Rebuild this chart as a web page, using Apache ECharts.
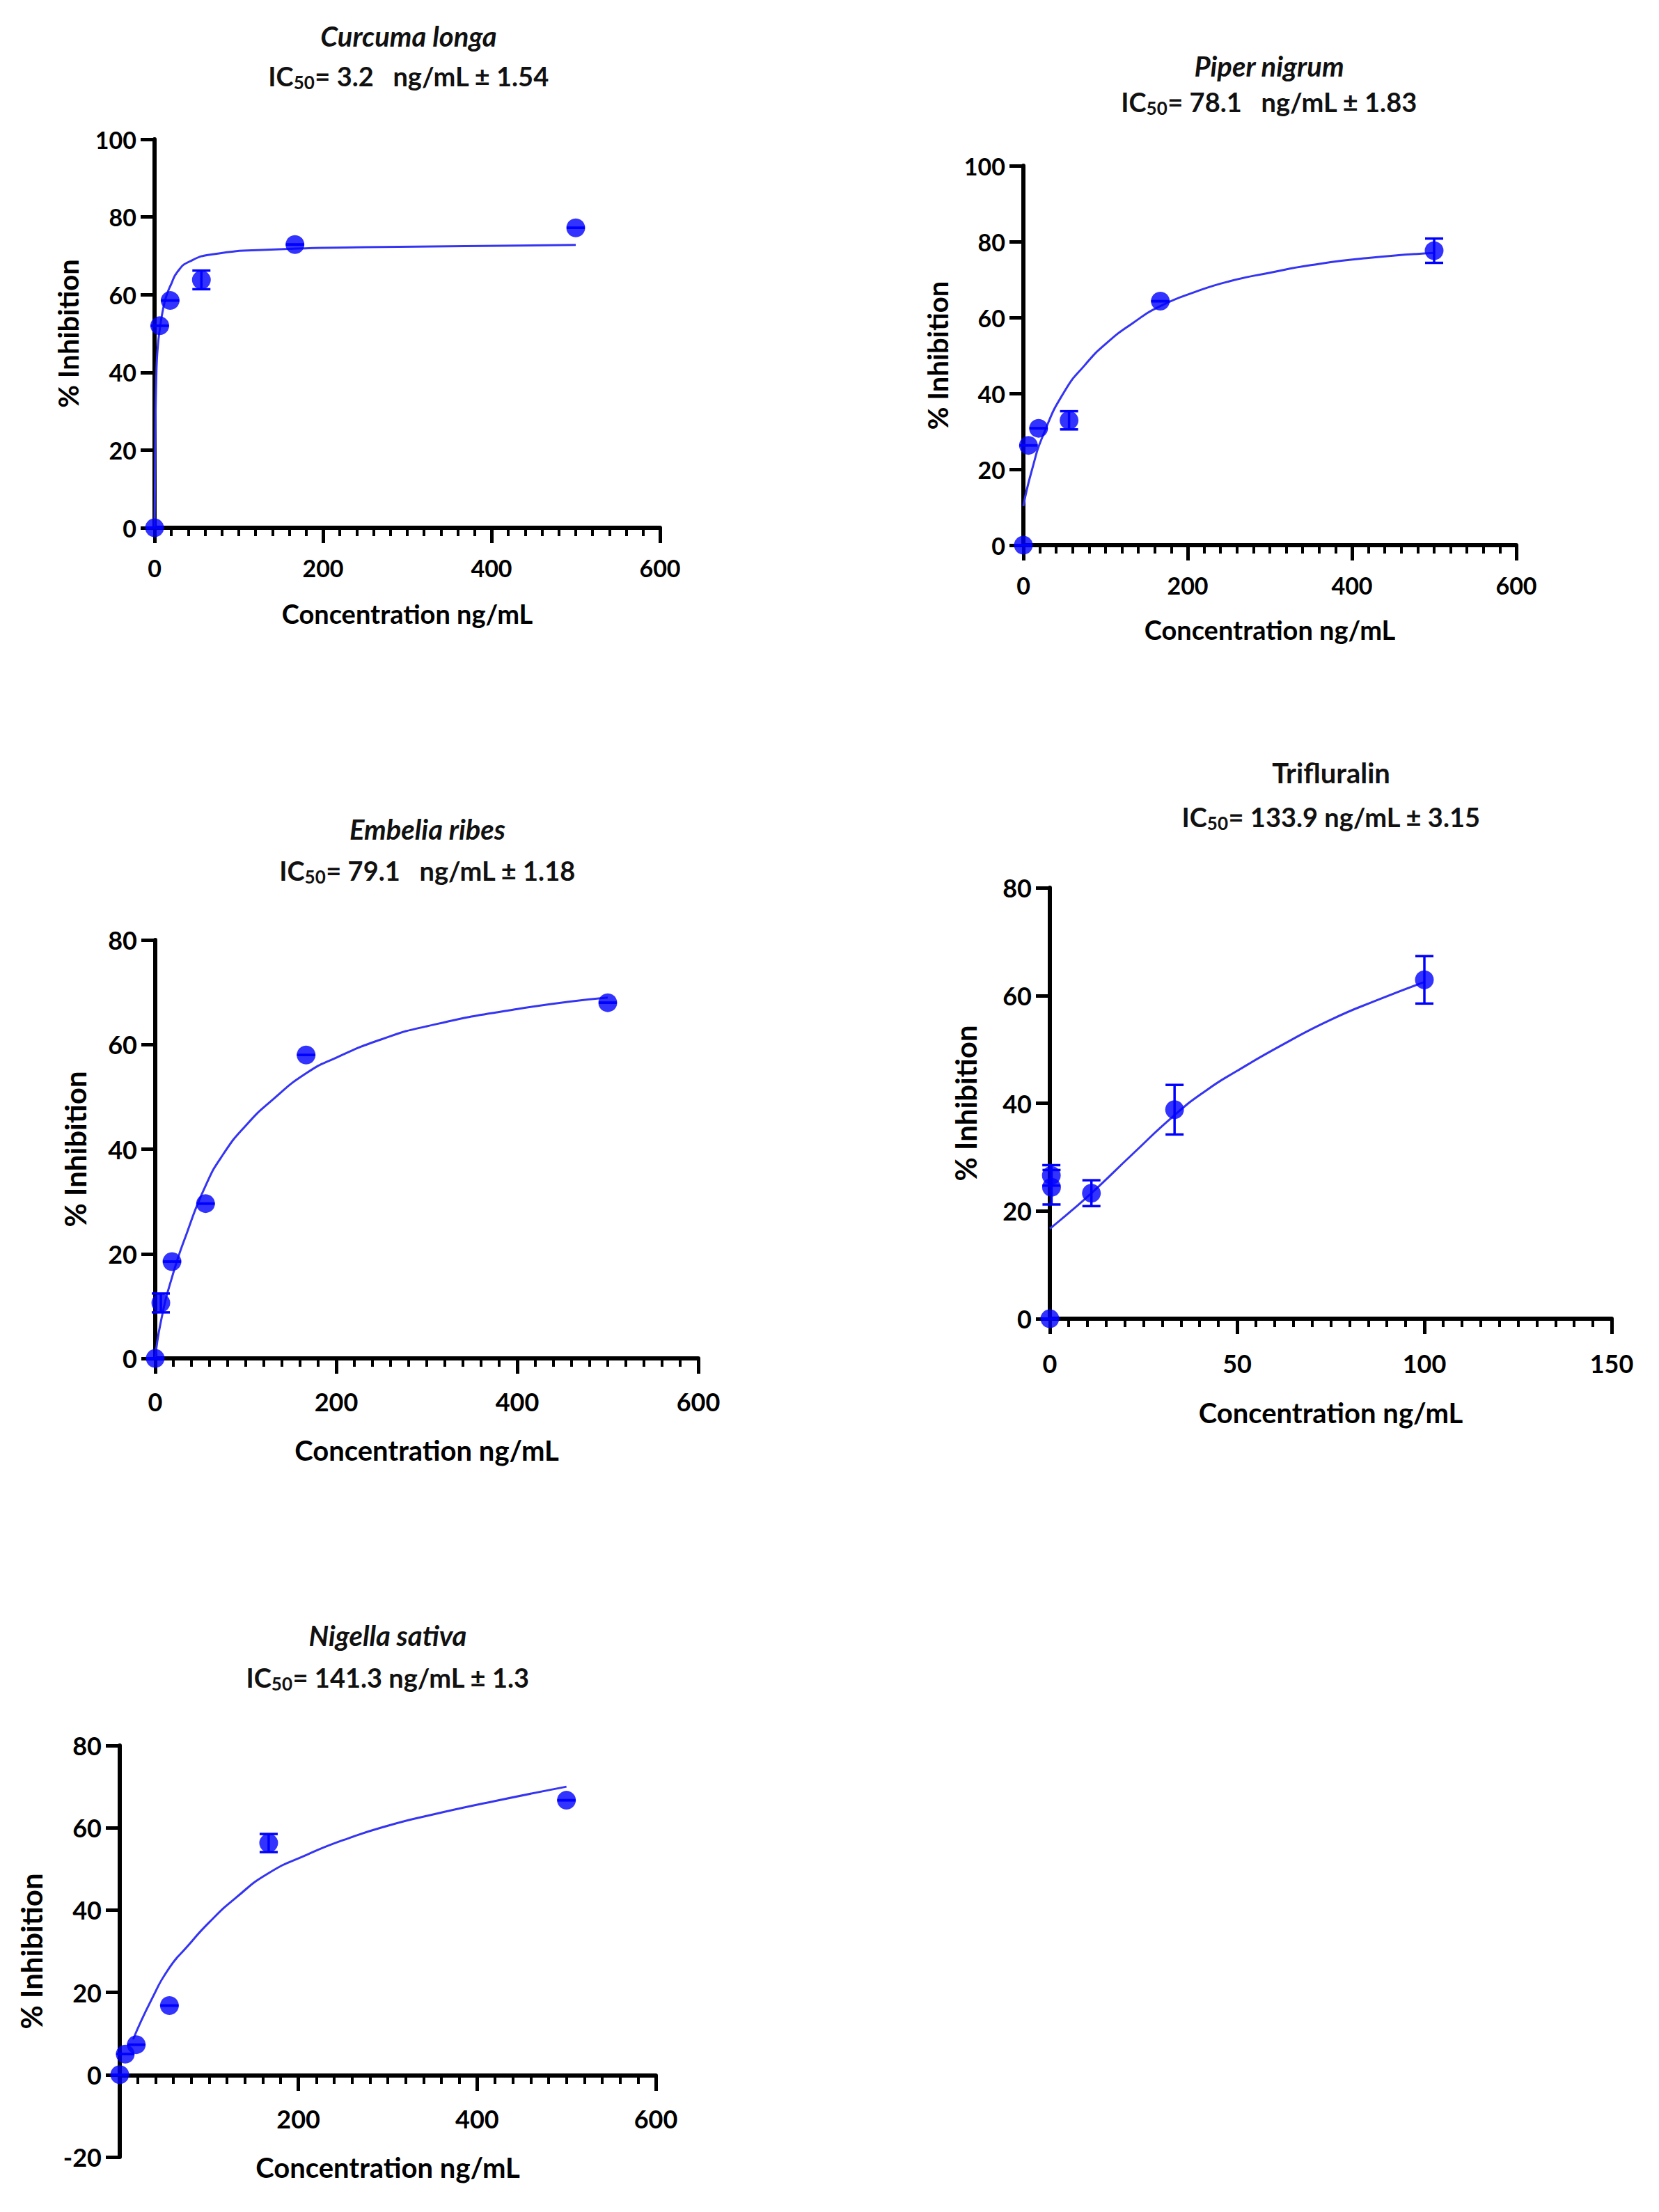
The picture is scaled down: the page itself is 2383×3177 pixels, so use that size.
<!DOCTYPE html>
<html>
<head>
<meta charset="utf-8">
<title>IC50 inhibition curves</title>
<script src="https://cdn.jsdelivr.net/npm/echarts@6/dist/echarts.min.js"></script>
<style>
  html, body { margin: 0; padding: 0; background: #fff; }
  #main { width: 2383px; height: 3177px; }
</style>
</head>
<body>
<div id="main"></div>
<script>
// concentrations (ng/mL)
var concExtract = [0, 6.17, 18.5, 55.6, 166.7, 500];
var concTrifluralin = [0, 0.4, 0.45, 11.1, 33.3, 100];

// mean % inhibition and error bar size (0 = hidden by the dot)
var curcumaMean = [0, 52.0, 58.5, 63.8, 72.9, 77.2];
var curcumaErr  = [0, 0, 0, 2.4, 0, 0];
var piperMean   = [0, 26.3, 30.8, 32.9, 64.3, 77.6];
var piperErr    = [0, 0, 0, 2.4, 0, 3.2];
var embeliaMean = [0, 10.6, 18.5, 29.6, 58.0, 68.0];
var embeliaErr  = [0, 1.8, 0, 0, 0, 0];
var trifMean    = [0, 26.6, 24.4, 23.3, 38.8, 62.9];
var trifErr     = [0, 1.9, 3.2, 2.4, 4.6, 4.4];
var nigellaMean = [0, 5.0, 7.3, 16.8, 56.3, 66.7];
var nigellaErr  = [0, 0, 0, 0, 2.2, 0];

// fitted curves, read at x positions along the drawn line
var curcumaFitX = [0, 0.8, 2.2, 4, 6.17, 9, 13.8, 19.3, 27.6, 41.3, 68.9, 137.8, 250, 500];
var curcumaFitY = [0, 20, 40, 47, 51, 55, 59.5, 62.5, 66, 68.5, 70.4, 71.6, 72.2, 72.8];
var piperFitX = [0, 10, 25, 50, 75, 100, 133, 166.7, 210, 250, 300, 350, 420, 500];
var piperFitY = [10.3, 19.5, 29.5, 40.5, 47.5, 53, 58.5, 63, 66.8, 69.5, 71.8, 73.8, 75.7, 77];
var embeliaFitX = [0, 6.17, 18.5, 35, 55.6, 75, 100, 130, 166.7, 200, 250, 300, 400, 500];
var embeliaFitY = [0, 7, 15.5, 24, 33, 39, 44.5, 49.5, 54.5, 57.5, 61, 63.5, 66.8, 69];
var trifFitX = [0, 5, 11.1, 22, 33.3, 42, 50, 62, 75, 88, 100];
var trifFitY = [16.7, 19.6, 23.3, 30.5, 37.8, 42.5, 46, 50.8, 55.5, 59.3, 62.5];
var nigellaFitX = [15, 35, 55.6, 75, 100, 130, 166.7, 210, 250, 300, 350, 420, 500];
var nigellaFitY = [8.6, 18, 26, 31, 37, 43, 49, 53.5, 57, 60.5, 63.2, 66.5, 70];

// titles
var speciesNames = ['Curcuma longa', 'Piper nigrum', 'Embelia ribes', 'Trifluralin', 'Nigella sativa'];
var ic50Lines = [
  'IC{s|50}= 3.2\u00a0\u00a0\u00a0ng/mL \u00b1 1.54',
  'IC{s|50}= 78.1\u00a0\u00a0\u00a0ng/mL \u00b1 1.83',
  'IC{s|50}= 79.1\u00a0\u00a0\u00a0ng/mL \u00b1 1.18',
  'IC{s|50}= 133.9 ng/mL \u00b1 3.15',
  'IC{s|50}= 141.3 ng/mL \u00b1 1.3'
];
var xTitle = 'Concentration ng/mL';
var yTitle = '% Inhibition';

var FONT = 'Lato, "Open Sans", sans-serif';
var BLUE = '#0000ff';
var LINE_BLUE = '#3434f2';

var panels = [
  { conc: concExtract, mean: curcumaMean, err: curcumaErr, fx: curcumaFitX, fy: curcumaFitY,
    grid: { left: 222, top: 200, width: 726, height: 558 }, xMax: 600, xInt: 200, yMin: 0, yMax: 100,
    xGap: 104, yGap: 104, xMargin: 40, fs: 34, t1: 52, t2: 109, cx: 587, italic: true },
  { conc: concExtract, mean: piperMean, err: piperErr, fx: piperFitX, fy: piperFitY,
    grid: { left: 1470, top: 238, width: 708, height: 545 }, xMax: 600, xInt: 200, yMin: 0, yMax: 100,
    xGap: 102, yGap: 103, xMargin: 40, fs: 34, t1: 95, t2: 146, cx: 1823, italic: true },
  { conc: concExtract, mean: embeliaMean, err: embeliaErr, fx: embeliaFitX, fy: embeliaFitY,
    grid: { left: 223, top: 1350, width: 780, height: 601 }, xMax: 600, xInt: 200, yMin: 0, yMax: 80,
    xGap: 112, yGap: 94, xMargin: 44, fs: 36, t1: 1191, t2: 1250, cx: 614, italic: true },
  { conc: concTrifluralin, mean: trifMean, err: trifErr, fx: trifFitX, fy: trifFitY,
    grid: { left: 1508, top: 1275, width: 807, height: 619 }, xMax: 150, xInt: 50, yMin: 0, yMax: 80,
    xGap: 115, yGap: 100, xMargin: 46, fs: 36, t1: 1110, t2: 1173, cx: 1912, italic: false },
  // this panel's y axis runs below zero; its x axis sits on y = 0 (drawn by an overlay grid)
  { conc: concExtract, mean: nigellaMean, err: nigellaErr, fx: nigellaFitX, fy: nigellaFitY,
    grid: { left: 172, top: 2507, width: 770, height: 591 }, xMax: 600, xInt: 200, yMin: -20, yMax: 80,
    zeroGrid: { left: 172, top: 2507, width: 770, height: 474 },
    xGap: 112, yGap: 106, xMargin: 44, fs: 36, t1: 2349, t2: 2409, cx: 557, italic: true, hideZero: true }
];

var grids = [], xAxes = [], yAxes = [], series = [], texts = [];

function blackLine() { return { show: true, onZero: false, lineStyle: { color: '#000', width: 6 } }; }

function makeXAxis(gi, p, visible) {
  return {
    gridIndex: gi, type: 'value', min: 0, max: p.xMax, interval: p.xInt, show: visible,
    axisLine: blackLine(),
    axisTick: { show: true, inside: false, length: 22, lineStyle: { color: '#000', width: 5 } },
    minorTick: { show: true, splitNumber: 10, length: 12, lineStyle: { color: '#000', width: 4 } },
    splitLine: { show: false },
    axisLabel: {
      margin: p.xMargin, color: '#000', fontFamily: FONT, fontWeight: 'bold', fontSize: p.fs,
      formatter: function (v) { return (p.hideZero && v === 0) ? '' : String(v); }
    },
    name: xTitle, nameLocation: 'middle', nameGap: p.xGap,
    nameTextStyle: { color: '#000', fontFamily: FONT, fontWeight: 'bold', fontSize: p.fs + 4 }
  };
}

function makeYAxis(gi, p, min, max, visible) {
  return {
    gridIndex: gi, type: 'value', min: min, max: max, interval: 20, show: visible,
    axisLine: blackLine(),
    axisTick: { show: true, inside: false, length: 20, lineStyle: { color: '#000', width: 5 } },
    splitLine: { show: false },
    axisLabel: { margin: 26, color: '#000', fontFamily: FONT, fontWeight: 'bold', fontSize: p.fs },
    name: yTitle, nameLocation: 'middle', nameGap: p.yGap, nameRotate: 90,
    nameTextStyle: { color: '#000', fontFamily: FONT, fontWeight: 'bold', fontSize: p.fs + 6 }
  };
}

panels.forEach(function (p, i) {
  var gi = grids.length;
  grids.push(Object.assign({ containLabel: false, outerBoundsMode: 'none' }, p.grid));
  xAxes.push(makeXAxis(gi, p, !p.zeroGrid));
  yAxes.push(makeYAxis(gi, p, p.yMin, p.yMax, true));
  if (p.zeroGrid) {
    var zi = grids.length;
    grids.push(Object.assign({ containLabel: false, outerBoundsMode: 'none' }, p.zeroGrid));
    xAxes.push(makeXAxis(zi, p, true));
    yAxes.push(makeYAxis(zi, p, 0, p.yMax, false));
  }

  // fitted curve
  series.push({
    type: 'line', xAxisIndex: gi, yAxisIndex: gi,
    data: p.fx.map(function (x, k) { return [x, p.fy[k]]; }),
    smooth: 0.55, showSymbol: false, symbol: 'none',
    lineStyle: { color: LINE_BLUE, width: 3 }, z: 2, silent: true
  });

  // error bars
  series.push({
    type: 'custom', xAxisIndex: gi, yAxisIndex: gi, z: 3, silent: true,
    data: p.conc.map(function (x, k) { return [x, p.mean[k] - p.err[k], p.mean[k] + p.err[k]]; }),
    renderItem: function (params, api) {
      var lo = api.coord([api.value(0), api.value(1)]);
      var hi = api.coord([api.value(0), api.value(2)]);
      var w = 13;
      var st = { stroke: BLUE, lineWidth: 3.5 };
      return {
        type: 'group',
        children: [
          { type: 'line', shape: { x1: lo[0], y1: lo[1], x2: hi[0], y2: hi[1] }, style: st },
          { type: 'line', shape: { x1: lo[0] - w, y1: lo[1], x2: lo[0] + w, y2: lo[1] }, style: st },
          { type: 'line', shape: { x1: hi[0] - w, y1: hi[1], x2: hi[0] + w, y2: hi[1] }, style: st }
        ]
      };
    }
  });

  // mean points
  series.push({
    type: 'scatter', xAxisIndex: gi, yAxisIndex: gi, z: 4, silent: true,
    symbol: 'circle', symbolSize: 27,
    itemStyle: { color: BLUE },
    data: p.conc.map(function (x, k) { return [x, p.mean[k]]; })
  });

  texts.push({
    type: 'text', x: p.cx, y: p.t1, silent: true,
    style: { text: speciesNames[i], align: 'center', verticalAlign: 'middle',
      font: (p.italic ? 'italic ' : '') + 'bold 40px ' + FONT, fill: '#111' }
  });
  texts.push({
    type: 'text', x: p.cx, y: p.t2, silent: true,
    style: {
      text: ic50Lines[i], align: 'center', verticalAlign: 'middle', fill: '#111',
      fontFamily: FONT, fontWeight: 'bold', fontSize: 38, lineHeight: 44,
      rich: { s: { fontFamily: FONT, fontWeight: 'bold', fontSize: 26, lineHeight: 14, verticalAlign: 'bottom' } }
    }
  });
});

var chart = echarts.init(document.getElementById('main'), null, { renderer: 'svg' });
chart.setOption({
  backgroundColor: '#fff',
  animation: false,
  grid: grids,
  xAxis: xAxes,
  yAxis: yAxes,
  series: series,
  graphic: texts
});
</script>
</body>
</html>
